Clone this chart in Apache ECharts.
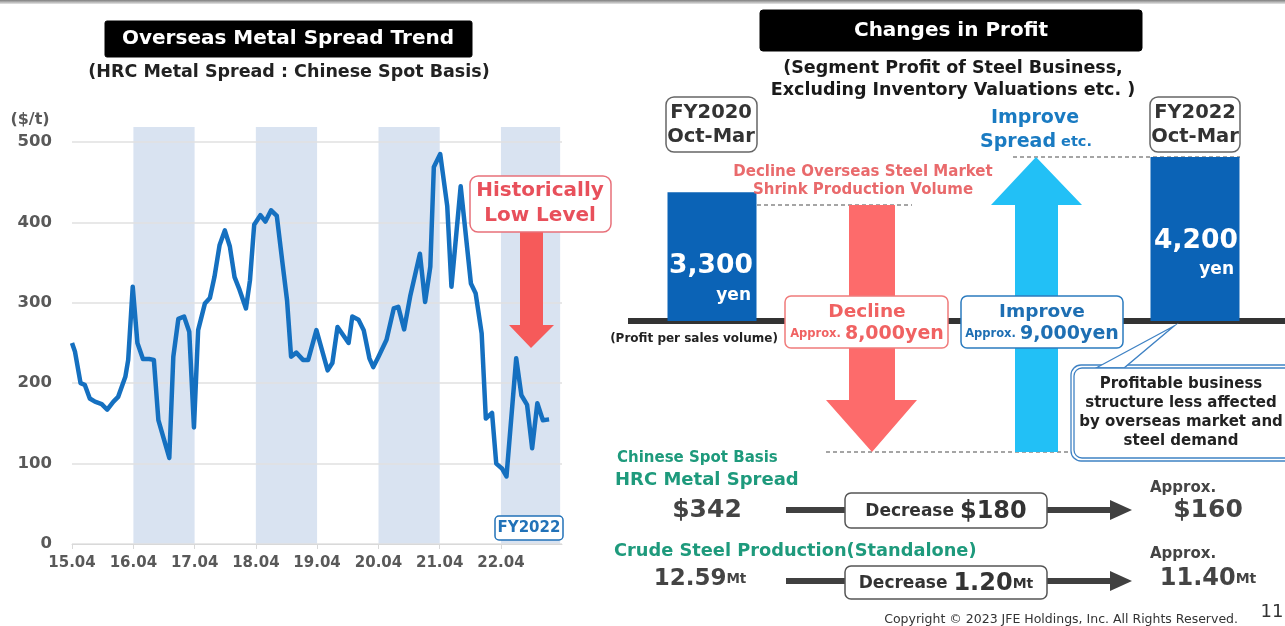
<!DOCTYPE html>
<html><head><meta charset="utf-8">
<script src="https://cdn.jsdelivr.net/npm/echarts@6/dist/echarts.min.js"></script>
<style>html,body{margin:0;padding:0;background:#fff}#c{width:1285px;height:626px}</style>
</head><body><div id="c"></div>
<script>
// ---- Data ----
const spreadDates = ['2015-04-01','2015-04-19','2015-05-22','2015-06-16','2015-07-16','2015-08-16','2015-09-25','2015-10-28','2015-12-04','2016-01-01','2016-02-13','2016-03-01','2016-03-28','2016-04-25','2016-05-28','2016-07-04','2016-08-01','2016-08-28','2016-11-01','2016-11-25','2016-12-25','2017-01-28','2017-02-28','2017-03-28','2017-04-22','2017-06-01','2017-07-01','2017-07-28','2017-08-28','2017-09-28','2017-10-28','2017-11-25','2017-12-25','2018-02-01','2018-02-25','2018-03-22','2018-04-28','2018-05-28','2018-07-01','2018-08-04','2018-09-07','2018-10-04','2018-10-28','2018-11-28','2019-01-07','2019-02-07','2019-03-28','2019-06-03','2019-07-01','2019-08-01','2019-10-06','2019-10-28','2019-12-04','2020-01-04','2020-02-07','2020-03-01','2020-04-01','2020-05-19','2020-07-01','2020-07-28','2020-09-01','2020-10-07','2020-12-04','2021-01-04','2021-02-04','2021-02-25','2021-04-04','2021-05-16','2021-06-10','2021-08-04','2021-10-04','2021-11-01','2021-12-07','2022-01-01','2022-02-07','2022-03-04','2022-04-07','2022-05-04','2022-07-01','2022-08-01','2022-09-04','2022-10-04','2022-11-04','2022-12-07','2023-01-13'];
const spreadValues = [250,239,200,198,181,177,174,167,177,183,208,229,320,250,230,230,229,154,107,233,280,283,264,145,266,299,306,332,372,390,370,332,316,293,328,397,409,401,415,408,349,303,233,238,229,229,266,216,225,270,250,283,279,266,231,220,233,254,293,295,267,308,361,301,345,469,485,420,320,445,324,312,262,156,163,100,94,84,231,185,173,119,175,154,155];
const xTickDates = ['2015-04-01','2016-04-01','2017-04-01','2018-04-01','2019-04-01','2020-04-01','2021-04-01','2022-04-01'];
const bandStarts = ['2016-04-01','2018-04-01','2020-04-01','2022-04-01'];
const bandEnds   = ['2017-04-01','2019-04-01','2021-04-01','2023-03-20'];
const profitCats = ['FY2020 Oct-Mar','Decline','Improve','FY2022 Oct-Mar'];
const profitValues = [3300, '-', '-', 4200];

const FONT = '"DejaVu Sans", "Noto Sans", sans-serif';
const GREY = '#595959';
const chart = echarts.init(document.getElementById('c'), null, {renderer:'canvas'});
const ts = d => new Date(d + 'T00:00:00Z').getTime();
const xMin = ts('2015-04-01'), xMax = ts('2023-03-31');

function txt(x, y, text, size, color, opts) {
  opts = opts || {};
  return {type:'text', z: opts.z || 20, style:{x, y, text, font: (opts.weight||'bold') + ' ' + size + 'px ' + FONT, fill: color, align: opts.align||'center', verticalAlign:'middle', rich: opts.rich}};
}
function box(x, y, w, h, r, stroke, lw, fill, z) {
  return {type:'rect', z: z||15, shape:{x, y, width:w, height:h, r}, style:{fill: fill||'#fff', stroke, lineWidth: lw||1.5}};
}
function line(x1,y1,x2,y2,color,w,dash,z){
  return {type:'line', z:z||12, shape:{x1,y1,x2,y2}, style:{stroke:color, lineWidth:w, lineDash: dash||null}};
}
function poly(points, fill, z){ return {type:'polygon', z:z||12, shape:{points}, style:{fill}}; }
function f(size, color){ return {font:'bold '+size+'px '+FONT, fill:color}; }

const graphics = [
  {type:'rect', z:1, shape:{x:0,y:0,width:1285,height:4}, style:{fill:new echarts.graphic.LinearGradient(0,0,0,1,[{offset:0,color:'#7f7f7f'},{offset:1,color:'#e6e6e6'}])}},
  box(105,21,367,36,2,'#000',1,'#000'),
  txt(288,39,'Overseas Metal Spread Trend',20,'#fff'),
  txt(289,72,'(HRC Metal Spread : Chinese Spot Basis)',17.5,'#222'),
  txt(30,120,'($/t)',16,GREY),
  box(470,176,141,56,8,'#e8707a',1.5,'#fff'),
  txt(540,191,'Historically',20,'#e8505b'),
  txt(540,216,'Low Level',20,'#e8505b'),
  poly([[520,232],[543,232],[543,325],[554,325],[531,348],[509,325],[520,325]],'#f65a5a',14),
  box(495,516,68,24,4,'#2272b8',1.5,'#fff'),
  txt(529,528,'FY2022',15,'#2272b8'),

  box(760,10,382,41,3,'#000',1,'#000'),
  txt(951,31,'Changes in Profit',20,'#fff'),
  txt(953,68,'(Segment Profit of Steel Business,',17.5,'#1a1a1a'),
  txt(953,90,'Excluding Inventory Valuations etc. )',17.5,'#1a1a1a'),
  box(666,97,91,55,8,'#666',1.5,'#fff'),
  txt(711,113,'FY2020',19.5,'#333'),
  txt(711,137,'Oct-Mar',19.5,'#333'),
  box(1150,97,90,55,8,'#666',1.5,'#fff'),
  txt(1195,113,'FY2022',19.5,'#333'),
  txt(1195,137,'Oct-Mar',19.5,'#333'),
  txt(1035,118,'Improve',19,'#1a7bc2'),
  txt(1036,142,'{a|Spread}{b| etc.}',19,'#1a7bc2',{rich:{a:f(19,'#1a7bc2'),b:f(14.5,'#1a7bc2')}}),
  txt(863,172,'Decline Overseas Steel Market',15,'#e96a6c'),
  txt(863,190,'Shrink Production Volume',15,'#e96a6c'),
  line(1013,157,1240,157,'#888',1.5,[4,3],5),
  line(757,205,912,205,'#888',1.5,[4,3],5),
  line(826,452,1072,452,'#888',1.5,[4,3],5),
  {type:'rect', z:3, shape:{x:628,y:318,width:657,height:6}, style:{fill:'#333'}},
  poly([[849,205],[895,205],[895,400],[917,400],[872,452],[826,400],[849,400]],'#fd6b6b',8),
  poly([[1015,452],[1058,452],[1058,205],[1082,205],[1036,157],[991,205],[1015,205]],'#22c0f6',8),
  txt(694,339,'(Profit per sales volume)',12,'#222'),
  box(785,296,163,52,6,'#f07b7b',1.5,'#fff'),
  txt(867,312,'Decline',18.5,'#f06262'),
  txt(867,334,'{s|Approx. }{b|8,000yen}',19,'#f06262',{rich:{s:f(11.5,'#f06262'),b:f(19,'#f06262')}}),
  box(961,296,162,52,6,'#2b7bbf',1.5,'#fff'),
  txt(1042,312,'Improve',18.5,'#1e6fb3'),
  txt(1042,334,'{s|Approx. }{b|9,000yen}',19,'#1e6fb3',{rich:{s:f(11.5,'#1e6fb3'),b:f(19,'#1e6fb3')}}),
  txt(711,266,'3,300',26.5,'#fff',{z:30}),
  txt(751,296,'yen',17,'#fff',{z:30,align:'right'}),
  txt(1196,241,'4,200',26.5,'#fff',{z:30}),
  txt(1234,270,'yen',17,'#fff',{z:30,align:'right'}),
  {type:'polygon', z:16, shape:{points:[[1096,368],[1174,326],[1124,368]]}, style:{fill:'#fff', stroke:'#3f82c4', lineWidth:1.3}},
  {type:'rect', z:15, shape:{x:1071,y:365,width:225,height:96,r:10}, style:{fill:'#fff', stroke:'#3f82c4', lineWidth:1.3}},
  {type:'rect', z:17, shape:{x:1074,y:368,width:219,height:90,r:8}, style:{fill:'#fff', stroke:'#3f82c4', lineWidth:1.3}},
  txt(1181,384,'Profitable business',15,'#222'),
  txt(1181,403,'structure less affected',15,'#222'),
  txt(1181,422,'by overseas market and',15,'#222'),
  txt(1181,441,'steel demand',15,'#222'),
  txt(617,458,'Chinese Spot Basis',15,'#1e9a7c',{align:'left'}),
  txt(615,480,'HRC Metal Spread',18,'#1e9a7c',{align:'left'}),
  txt(707,510,'$342',25,'#444'),
  line(786,510,845,510,'#404040',6),
  line(1047,510,1112,510,'#404040',6),
  poly([[1110,500],[1132,510],[1110,520]],'#404040'),
  box(845,493,202,35,6,'#555',1.5,'#fff'),
  txt(946,512,'{a|Decrease }{b|$180}',17,'#333',{rich:{a:f(17,'#333'),b:f(24,'#333')}}),
  txt(1183,488,'Approx.',15,'#444'),
  txt(1208,510,'$160',25,'#444'),
  txt(614,551,'Crude Steel Production(Standalone)',17.8,'#1e9a7c',{align:'left'}),
  txt(700,579,'{a|12.59}{b|Mt}',23,'#444',{rich:{a:f(23,'#444'),b:f(13.5,'#444')}}),
  line(786,581,845,581,'#404040',6),
  line(1047,581,1112,581,'#404040',6),
  poly([[1110,571],[1132,581],[1110,591]],'#404040'),
  box(845,566,202,33,6,'#555',1.5,'#fff'),
  txt(946,584,'{a|Decrease }{b|1.20}{c|Mt}',17,'#333',{rich:{a:f(17,'#333'),b:f(24,'#333'),c:f(14,'#333')}}),
  txt(1183,554,'Approx.',15,'#444'),
  txt(1208,579,'{a|11.40}{b|Mt}',24,'#444',{rich:{a:f(24,'#444'),b:f(14,'#444')}}),
  txt(1238,620,'Copyright © 2023 JFE Holdings, Inc. All Rights Reserved.',12.5,'#333',{align:'right',weight:'normal'}),
  txt(1272,612,'11',18,'#333',{weight:'normal'})
];

const tickTs = xTickDates.map(ts);
const option = {
  animation:false,
  backgroundColor:'#fff',
  grid:[
    {left:72, top:142, width:490, height:402},
    {left:72, top:127, width:490, height:417},
    {left:631.5, top:157, width:644, height:164}
  ],
  xAxis:[
    {gridIndex:0, type:'value', min:xMin, max:xMax,
     axisLine:{show:true, lineStyle:{color:'#d9d9d9', width:1}},
     axisTick:{show:true, customValues: tickTs, length:5, lineStyle:{color:'#d9d9d9'}},
     axisLabel:{customValues: tickTs, formatter: v => { const d=new Date(v); return String(d.getUTCFullYear()%100).padStart(2,'0')+'.'+String(d.getUTCMonth()+1).padStart(2,'0'); },
                color:GREY, fontFamily:FONT, fontWeight:'bold', fontSize:15, margin:12},
     splitLine:{show:false}},
    {gridIndex:1, type:'value', min:xMin, max:xMax, show:false},
    {gridIndex:2, type:'category', data:profitCats, show:false}
  ],
  yAxis:[
    {gridIndex:0, type:'value', min:0, max:500, interval:100,
     axisLine:{show:false}, axisTick:{show:false},
     axisLabel:{color:GREY, fontFamily:FONT, fontWeight:'bold', fontSize:16.5, margin:20},
     splitLine:{lineStyle:{color:'#e0e0e0', width:1.5}}},
    {gridIndex:1, type:'value', min:0, max:1, show:false},
    {gridIndex:2, type:'value', min:0, max:4200, show:false}
  ],
  series:[
    {type:'custom', xAxisIndex:1, yAxisIndex:1, z:-1, silent:true,
     data: bandStarts.map((s,i)=>[ts(s), ts(bandEnds[i])]),
     encode:{x:[0,1]},
     renderItem:(params, api)=>{
       const a = api.coord([api.value(0), 0]);
       const b = api.coord([api.value(1), 0]);
       return {type:'rect', shape:{x:a[0], y:params.coordSys.y, width:b[0]-a[0], height:params.coordSys.height},
               style:{fill:'rgba(170,192,224,0.45)'}};
     }},
    {type:'line', xAxisIndex:0, yAxisIndex:0, showSymbol:false, z:5,
     data: spreadDates.map((d,i)=>[ts(d), spreadValues[i]]),
     lineStyle:{color:'#1570c0', width:4.5, join:'round'}},
    {type:'bar', xAxisIndex:2, yAxisIndex:2, data: profitValues, barWidth:89, z:6,
     itemStyle:{color:'#0b63b6'}}
  ],
  graphic: graphics
};
chart.setOption(option);
</script></body></html>
